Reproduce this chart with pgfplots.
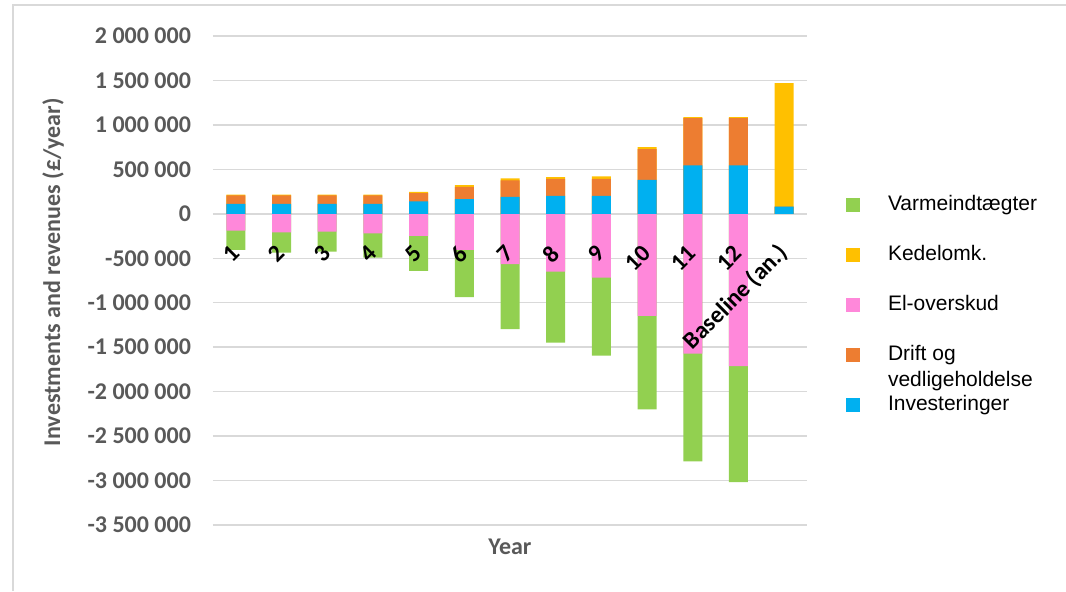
\documentclass[border=0pt]{standalone}
\usepackage{pgfplots}
\usepackage{pgfplotstable}
\pgfplotsset{compat=1.18}
\usepackage{fontspec}
\setmainfont{Carlito}
\newfontfamily\arialfont{Liberation Sans}
\definecolor{cgreen}{HTML}{92D050}
\definecolor{cyellow}{HTML}{FFC000}
\definecolor{cpink}{HTML}{FF88DA}
\definecolor{corange}{HTML}{ED7D31}
\definecolor{cblue}{HTML}{00B0F0}
\definecolor{cgrid}{HTML}{D9D9D9}
\definecolor{clabel}{HTML}{595959}

\pgfplotsset{
  geom/.style={at={(106.5pt,33pt)}, anchor=south west,
    scale only axis, width=297pt, height=244.5pt,
    xmin=-0.5, xmax=12.5, ymin=-3500000, ymax=2000000,
    axis line style={draw=none}, major tick length=0pt},
}

% cumulative bar ends (GBP/year)
% x: category index; blue = Investeringer top; orange = Drift top; yellow = Kedelomk. top
% pink = El-overskud bottom; green = Varmeindtaegter bottom
\pgfplotstableread{
x blue orange yellow pink green
0 113000 208000 215000 -188000 -405000
1 113000 208000 215000 -210000 -435000
2 113000 208000 215000 -199000 -424000
3 113000 208000 215000 -221000 -492000
4 139000 233000 248000 -248000 -642000
5 165000 304000 323000 -405000 -938000
6 191000 375000 398000 -567000 -1297000
7 203000 394000 413000 -649000 -1450000
8 203000 393000 420000 -717000 -1595000
9 383000 728000 751000 -1149000 -2199000
10 544000 1077000 1088000 -1573000 -2785000
11 544000 1077000 1088000 -1712000 -3018000
12 82000 82000 1471000 0 0
}\datatable

\begin{document}
\begin{tikzpicture}
\path[use as bounding box] (0,0) rectangle (533pt,295.5pt);
\draw[cgrid, line width=0.75pt] (6.5pt,0) -- (6.5pt,293pt) -- (533pt,293pt);
\begin{axis}[
  geom,
  ytick={-3500000,-3000000,-2500000,-2000000,-1500000,-1000000,-500000,0,500000,1000000,1500000,2000000},
  xtick={0,1,2,3,4,5,6,7,8,9,10,11,12},
  xticklabels={},
  ybar, bar width=9.5pt, bar shift=0pt,
  ymajorgrids, grid style={cgrid, line width=0.75pt},
  scaled y ticks=false,
  yticklabel style={font=\bfseries\fontsize{12}{14}\selectfont, text=clabel, xshift=-7.5pt,
    /pgf/number format/.cd, fixed, precision=0, 1000 sep={\ }, assume math mode=true},
  ylabel={Investments and revenues (£/year)},
  ylabel style={at={(axis description cs:-0.269,0.517)}, anchor=center,
    font=\bfseries\fontsize{12}{14}\selectfont, text=clabel},
  xlabel={Year},
  xlabel style={at={(axis description cs:0.5,-0.045)}, anchor=center,
    font=\bfseries\fontsize{12}{14}\selectfont, text=clabel},
  legend style={at={(axis description cs:1.065,0.685)}, anchor=north west,
    draw=none, fill=none, inner sep=0pt, row sep=10.5pt,
    font=\arialfont\fontsize{10.5}{13}\selectfont,
    nodes={text height=8pt, text depth=2.5pt, inner sep=2pt},
    /tikz/every odd column/.style={column sep=12pt}},
  legend cell align=left,
  leg/.style={legend image code/.code={\fill[##1] (0pt,-3.5pt) rectangle (7pt,3.5pt);}},
]
\addplot[fill=cgreen, draw=none, leg] table[x=x, y=green] {\datatable};
\addlegendentry{Varmeindtægter}
\addplot[fill=cyellow, draw=none, leg] table[x=x, y=yellow] {\datatable};
\addlegendentry{Kedelomk.}
\addplot[fill=cpink, draw=none, leg] table[x=x, y=pink] {\datatable};
\addlegendentry{El-overskud}
\addplot[fill=corange, draw=none, leg] table[x=x, y=orange] {\datatable};
\addlegendentry{\begin{tabular}[t]{@{}l@{}}Drift og\\vedligeholdelse\end{tabular}}
\addplot[fill=cblue, draw=none, leg] table[x=x, y=blue] {\datatable};
\addlegendentry{Investeringer}
\end{axis}
\begin{axis}[
  geom,
  ytick=\empty,
  xtick={0,1,2,3,4,5,6,7,8,9,10,11,12},
  xticklabels={1,2,3,4,5,6,7,8,9,10,11,12,Baseline (an.)},
  xticklabel style={font=\bfseries\fontsize{12}{14}\selectfont, text=black,
    xshift=0.5pt, yshift=138.5pt, rotate=45, anchor=east, inner sep=1pt},
]
\end{axis}
\end{tikzpicture}
\end{document}
